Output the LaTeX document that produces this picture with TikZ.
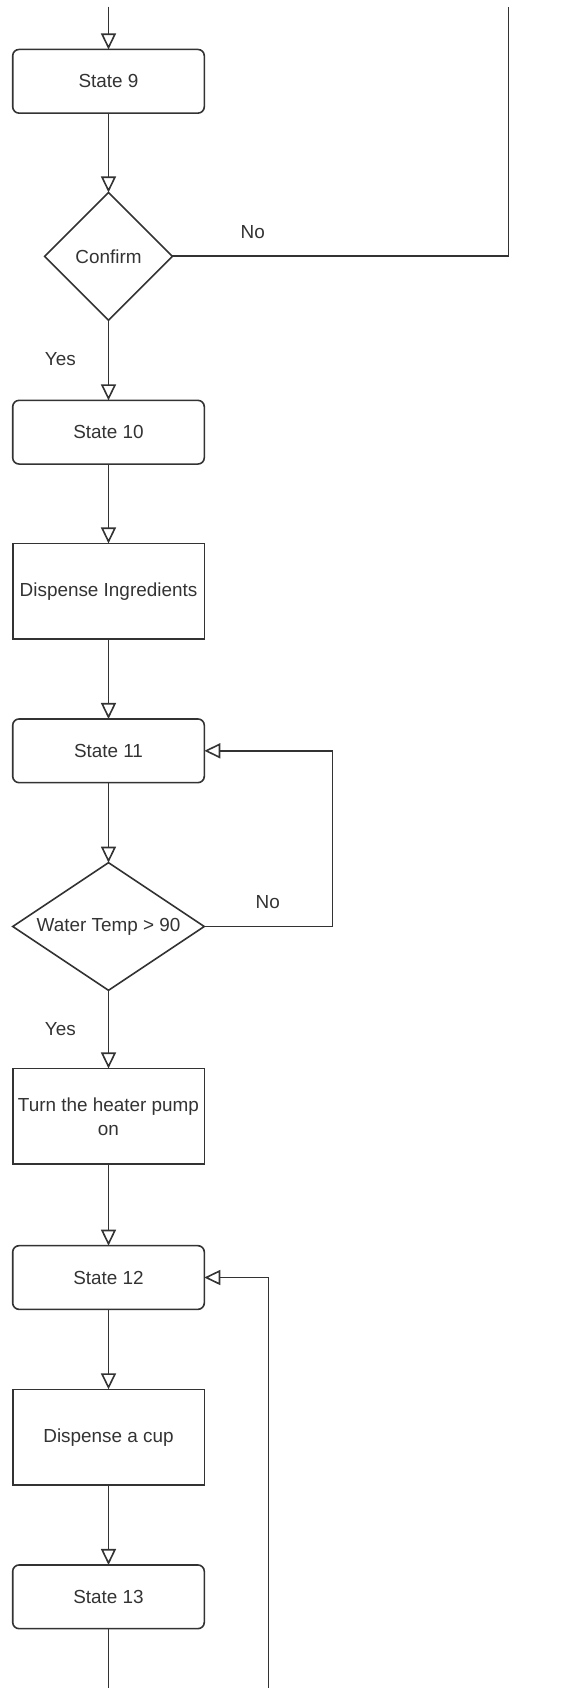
\documentclass[tikz,border=0pt]{standalone}
\usepackage{fontspec}
\setmainfont{Liberation Sans}
\usetikzlibrary{arrows.meta,shapes.geometric}

\begin{document}
\begin{tikzpicture}[x=1pt,y=-1pt,
  font=\fontsize{18.9}{24}\selectfont,
  ink/.style={draw=black!80, line width=1.6pt},
  stbox/.style={ink, rectangle, rounded corners=6.4pt, minimum width=191.6pt,
    minimum height=63.7pt, inner sep=0pt, outer sep=0pt, text=black!80},
  actbox/.style={ink, rectangle, minimum width=191.6pt, minimum height=95.8pt,
    inner sep=0pt, outer sep=0pt, align=center, text=black!80},
  decide/.style={ink, diamond, aspect=1.5, minimum width=#1, minimum height=127.7pt,
    inner sep=0pt, outer sep=0pt, text=black!80},
  flow/.style={ink, -{Triangle[open,length=16pt,width=15pt]}},
  wire/.style={ink},
  lbl/.style={inner sep=0pt, text=black!80}
]
\useasboundingbox (0,0) rectangle (579,1688);

% states and actions down the main column
\node[stbox]  (s9)   at (108.5,81.3)   {State 9};
\node[decide=127.7pt] (conf) at (108.5,256.3) {Confirm};
\node[stbox]  (s10)  at (108.5,432.2)  {State 10};
\node[actbox] (ing)  at (108.5,591.3)  {Dispense Ingredients};
\node[stbox]  (s11)  at (108.5,750.8)  {State 11};
\node[decide=191.5pt] (temp) at (108.5,926.5) {Water Temp > 90};
\node[actbox] (heat) at (108.5,1116.3) {Turn the heater pump\\on};
\node[stbox]  (s12)  at (108.5,1277.5) {State 12};
\node[actbox] (cup)  at (108.5,1437.2) {Dispense a cup};
\node[stbox]  (s13)  at (108.5,1596.8) {State 13};

% loose ends that leave the page
\coordinate (inTop)   at (108.5,6.7);
\coordinate (noTop)   at (508.5,6.7);
\coordinate (outBot)  at (108.5,1688);
\coordinate (backBot) at (268.3,1688);
\coordinate (noTurn)  at (508.5,256.3);
\coordinate (tempTurn) at (332.3,926.5);

% branch labels
\node[lbl] (noA)  at (252.7,231.7)  {No};
\node[lbl] (yesA) at (60.3,359)     {Yes};
\node[lbl] (noB)  at (267.7,901.7)  {No};
\node[lbl] (yesB) at (60.3,1029.3)  {Yes};

% main flow
\draw[flow] (inTop) -- (s9);
\draw[flow] (s9) -- (conf);
\draw[flow] (conf) -- (s10);
\draw[flow] (s10) -- (ing);
\draw[flow] (ing) -- (s11);
\draw[flow] (s11) -- (temp);
\draw[flow] (temp) -- (heat);
\draw[flow] (heat) -- (s12);
\draw[flow] (s12) -- (cup);
\draw[flow] (cup) -- (s13);
\draw[wire] (s13) -- (outBot);

% loops back
\draw[wire] (conf.east) -- (noTurn) -- (noTop);
\draw[flow] (temp.east) -- (tempTurn) |- (s11.east);
\draw[flow] (backBot) |- (s12.east);
\end{tikzpicture}
\end{document}
